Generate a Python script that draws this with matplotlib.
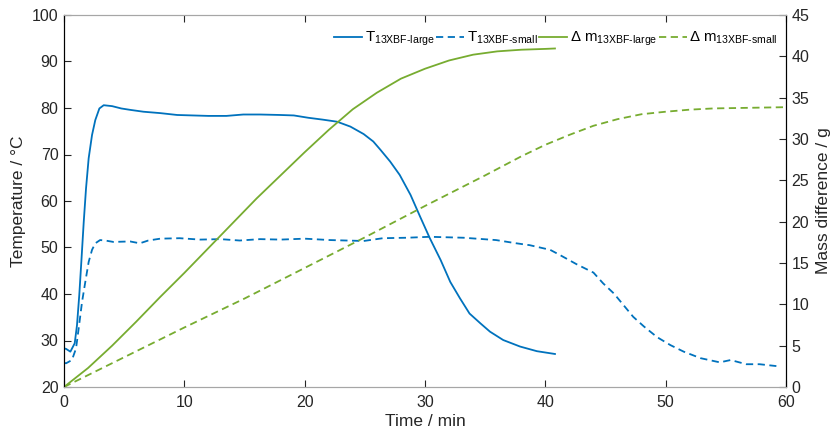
import matplotlib.pyplot as plt
import numpy as np

plt.rcParams['font.family'] = ['Liberation Sans', 'DejaVu Sans']
plt.rcParams['mathtext.fontset'] = 'custom'
plt.rcParams['mathtext.rm'] = 'Liberation Sans'
plt.rcParams['mathtext.it'] = 'Liberation Sans:italic'
plt.rcParams['mathtext.default'] = 'regular'

# temperature, large sample
t_large = [0, 0.17, 0.53, 0.89, 1.08, 1.27, 1.44, 1.64, 1.83, 2.05, 2.33, 2.6, 2.94, 3.3,
           4.0, 4.76, 5.5, 6.6, 8.0, 9.4, 10.7, 12.0, 13.5, 14.9, 16.3, 17.96, 19.1, 20.3,
           21.5, 22.7, 23.8, 24.9, 25.7, 26.3, 27.1, 27.9, 28.8, 29.6, 30.4, 31.3, 32.1,
           32.9, 33.7, 34.6, 35.4, 36.5, 37.9, 39.3, 40.8]
T_large = [28.3, 28.2, 27.6, 29.4, 33.3, 39.8, 46.9, 55.5, 62.7, 69.2, 74.2, 77.4, 79.9,
           80.6, 80.4, 79.9, 79.6, 79.2, 78.9, 78.5, 78.4, 78.3, 78.3, 78.6, 78.6, 78.5,
           78.4, 77.9, 77.5, 77.05, 76.0, 74.4, 72.8, 71.0, 68.5, 65.6, 61.3, 56.6, 52.0,
           47.3, 42.6, 39.1, 35.8, 33.7, 31.9, 30.1, 28.7, 27.7, 27.1]

# temperature, small sample
t_small = [0, 0.17, 0.66, 1.0, 1.22, 1.5, 1.77, 2.05, 2.33, 2.6, 3.0, 3.43, 4.1, 5.5,
           6.3, 7.0, 8.0, 9.6, 11.3, 13, 14.6, 16.3, 18, 20, 22.1, 24.9, 26.5, 28.5, 30.4,
           33.2, 35.9, 37.6, 38.7, 40.4, 41.2, 42.6, 44.0, 44.8, 45.7, 46.5, 47.3, 48.2,
           49.3, 50.4, 51.5, 52.9, 54.5, 55.4, 56.7, 57.8, 59.2]
T_small = [25.2, 25.1, 25.8, 28.3, 32.6, 38.3, 42.6, 46.9, 49.5, 50.9, 51.6, 51.5, 51.2,
           51.3, 50.9, 51.5, 51.9, 52.0, 51.7, 51.8, 51.5, 51.8, 51.7, 51.9, 51.6, 51.4,
           52.0, 52.1, 52.3, 52.1, 51.6, 50.9, 50.5, 49.5, 48.4, 46.4, 44.6, 42.3, 40.1,
           37.6, 35.1, 33.0, 30.7, 29.0, 27.6, 26.2, 25.3, 25.8, 24.9, 24.9, 24.5]

# mass difference
tm_large = [0, 2, 4, 6, 8, 10, 12, 14, 16, 18, 20, 22, 24, 26, 28, 30, 32, 34, 36, 38,
            40, 40.8]
dm_large = [0, 2.3, 5.0, 7.9, 10.9, 13.8, 16.8, 19.8, 22.8, 25.6, 28.4, 31.1, 33.6, 35.6,
            37.3, 38.5, 39.5, 40.2, 40.6, 40.8, 40.9, 40.95]
tm_small = [0, 5, 10, 15, 20, 25, 30, 35, 38, 40, 42, 44, 46, 48, 50, 52, 54, 56, 58, 60]
dm_small = [0, 3.6, 7.2, 10.7, 14.4, 18.1, 21.9, 25.6, 27.9, 29.3, 30.5, 31.6, 32.4,
            33.0, 33.3, 33.55, 33.7, 33.75, 33.8, 33.85]

blue = '#0072BD'
green = '#77AC30'
dash = (4, 2.5)
lw = 1.3
txt = '#262626'

fig = plt.figure(figsize=(8.35, 4.34), dpi=100)
ax = fig.add_axes([64 / 835, 1 - 387 / 434, (786 - 64) / 835, (387 - 15) / 434])
ax2 = ax.twinx()

l1, = ax.plot(t_large, T_large, color=blue, lw=lw)
l2, = ax.plot(t_small, T_small, color=blue, lw=lw, dashes=dash)
l3, = ax2.plot(tm_large, dm_large, color=green, lw=lw)
l4, = ax2.plot(tm_small, dm_small, color=green, lw=lw, dashes=dash)

ax.set_xlim(0, 60)
ax.set_ylim(20, 100)
ax2.set_ylim(0, 45)
ax.set_xticks(np.arange(0, 61, 10))
ax.set_yticks(np.arange(20, 101, 10))
ax2.set_yticks(np.arange(0, 46, 5))

for a in (ax, ax2):
    a.spines['top'].set_color('#a6a6a6')
    a.spines['bottom'].set_color('#a6a6a6')
    a.spines['left'].set_color('black')
    a.spines['right'].set_color('black')
ax.tick_params(axis='x', direction='in', top=True, length=5, labelsize=11.5,
               colors=txt, pad=6)
ax.tick_params(axis='y', direction='in', length=5, labelsize=11.5, colors=txt, pad=4)
ax2.tick_params(axis='y', direction='in', length=5, labelsize=11.5, colors=txt, pad=4)

ax.set_xlabel('Time / min', fontsize=12.5, color=txt, labelpad=3)
ax.set_ylabel('Temperature / °C', fontsize=12.5, color=txt, labelpad=4)
ax2.set_ylabel('Mass difference / g', fontsize=12.5, color=txt, rotation=90,
               labelpad=5)

labels = ['T$_{13XBF\u2010large}$', 'T$_{13XBF\u2010small}$',
          'Δ m$_{13XBF\u2010large}$', 'Δ m$_{13XBF\u2010small}$']
ax2.legend([l1, l2, l3, l4], labels, ncol=4, frameon=False, fontsize=10.8,
           loc='upper right', bbox_to_anchor=(1.004, 0.99), handlelength=1.9,
           handletextpad=0.15, columnspacing=0.1, borderaxespad=0.55, borderpad=0.2)

plt.savefig('out.png', dpi=100)
